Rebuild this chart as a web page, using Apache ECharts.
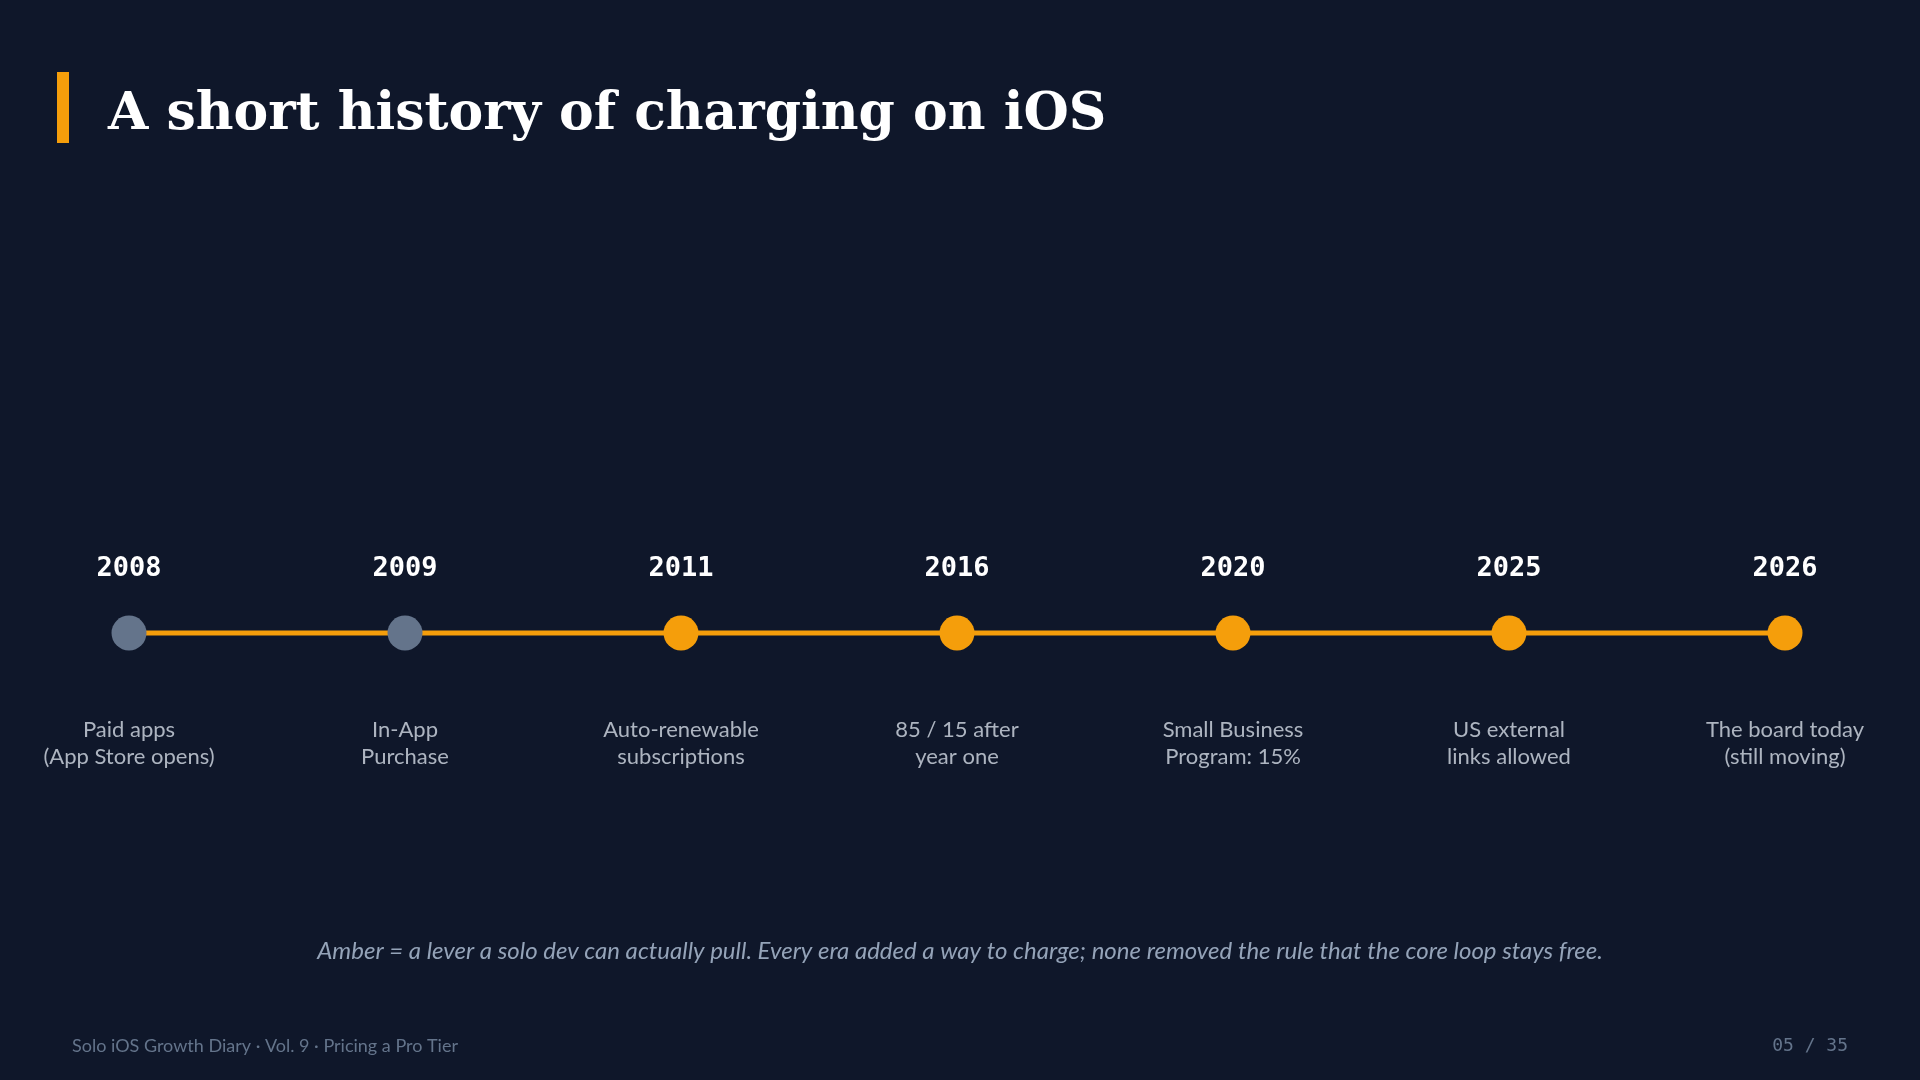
<!DOCTYPE html>
<html>
<head>
<meta charset="utf-8">
<title>A short history of charging on iOS</title>
<script src="https://cdn.jsdelivr.net/npm/echarts@6/dist/echarts.min.js"></script>
<style>
  html, body { margin: 0; padding: 0; background: #0f172a; }
  #main { width: 1920px; height: 1080px; }
</style>
</head>
<body>
<div id="main"></div>
<script>
// timeline data
var years = ['2008', '2009', '2011', '2016', '2020', '2025', '2026'];
var events = [
  'Paid apps\n(App Store opens)',
  'In-App\nPurchase',
  'Auto-renewable\nsubscriptions',
  '85 / 15 after\nyear one',
  'Small Business\nProgram: 15%',
  'US external\nlinks allowed',
  'The board today\n(still moving)'
];
// true = a lever a solo dev can pull (amber)
var isLever = [false, false, true, true, true, true, true];

var AMBER = '#f59e0b';
var SLATE = '#64748b';

var myChart = echarts.init(document.getElementById('main'));

var points = years.map(function (y, i) {
  return {
    value: 0,
    itemStyle: { color: isLever[i] ? AMBER : SLATE }
  };
});

var option = {
  backgroundColor: '#0f172a',
  animation: false,
  grid: { left: 129, right: 135, top: 533, bottom: 347 },
  xAxis: {
    type: 'category',
    data: years,
    boundaryGap: false,
    show: false
  },
  yAxis: { type: 'value', min: -1, max: 1, show: false },
  series: [
    {
      // the rail plus the dots, year above each
      type: 'line',
      data: points,
      symbol: 'circle',
      symbolSize: 35,
      lineStyle: { color: AMBER, width: 5 },
      label: {
        show: true,
        position: 'top',
        distance: 33,
        formatter: function (p) { return years[p.dataIndex]; },
        color: '#ffffff',
        fontFamily: 'DejaVu Sans Mono',
        fontWeight: 'bold',
        fontSize: 27
      },
      z: 3
    },
    {
      // invisible carrier for the event text under each dot
      type: 'scatter',
      data: years.map(function () { return 0; }),
      symbolSize: 35,
      itemStyle: { color: 'rgba(0,0,0,0)' },
      silent: true,
      label: {
        show: true,
        position: 'bottom',
        distance: 66,
        formatter: function (p) { return events[p.dataIndex]; },
        color: '#d5dce6',
        fontFamily: 'Lato',
        fontSize: 22,
        lineHeight: 27,
        align: 'center'
      },
      z: 2
    }
  ],
  graphic: [
    { type: 'rect', shape: { x: 57, y: 72, width: 12, height: 71 }, style: { fill: AMBER } },
    {
      type: 'text', x: 108, y: 115,
      style: {
        text: 'A short history of charging on iOS',
        fill: '#ffffff',
        font: 'bold 52px "DejaVu Serif"',
        textVerticalAlign: 'middle'
      }
    },
    {
      type: 'text', x: 960, y: 951,
      style: {
        text: 'Amber = a lever a solo dev can actually pull. Every era added a way to charge; none removed the rule that the core loop stays free.',
        fill: '#94a3b8',
        font: 'italic 24px Lato',
        textAlign: 'center',
        textVerticalAlign: 'middle'
      }
    },
    {
      type: 'text', x: 72, y: 1046,
      style: {
        text: 'Solo iOS Growth Diary · Vol. 9 · Pricing a Pro Tier',
        fill: '#64748b',
        font: '18px Lato',
        textVerticalAlign: 'middle'
      }
    },
    {
      type: 'text', x: 1848, y: 1046,
      style: {
        text: '05 / 35',
        fill: '#64748b',
        font: '18px "DejaVu Sans Mono"',
        textAlign: 'right',
        textVerticalAlign: 'middle'
      }
    }
  ]
};

myChart.setOption(option);
</script>
</body>
</html>
